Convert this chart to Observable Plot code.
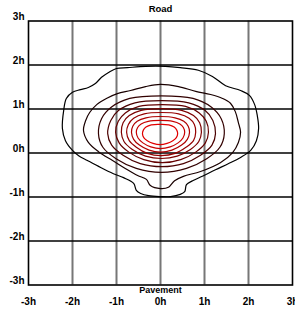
<!DOCTYPE html>
<html><head><meta charset="utf-8">
<script src="https://cdn.jsdelivr.net/npm/d3@7"></script>
<script src="https://cdn.jsdelivr.net/npm/@observablehq/plot@0.6"></script>
<style>body{margin:0;background:#fff}</style>
</head><body><div id="chart"></div>
<script>
const ticks = [-3, -2, -1, 0, 1, 2, 3];
const gridTicks = [-2, -1, 0, 1, 2];
const topLabel = "Road";
const bottomLabel = "Pavement";
const levels = [1, 2, 3, 4, 5, 6, 7, 8, 9, 10];

const contour1 = [[0,-0.99],[-0.27,-0.97],[-0.45,-0.92],[-0.55,-0.85],[-0.61,-0.69],[-0.84,-0.56],[-1.07,-0.47],[-1.36,-0.33],[-1.66,-0.17],[-1.86,-0.06],[-2.0,0.06],[-2.16,0.28],[-2.23,0.56],[-2.20,0.97],[-2.14,1.24],[-2.0,1.38],[-1.82,1.44],[-1.64,1.49],[-1.48,1.58],[-1.34,1.72],[-1.18,1.83],[-1.0,1.92],[-0.75,1.94],[-0.34,1.97],[0.11,1.97],[0.45,1.94],[0.86,1.88],[1.18,1.74],[1.48,1.53],[1.82,1.42],[2.02,1.31],[2.14,1.10],[2.20,0.85],[2.23,0.56],[2.18,0.28],[2.05,0.06],[1.82,-0.10],[1.55,-0.24],[1.25,-0.38],[0.95,-0.53],[0.73,-0.63],[0.59,-0.72],[0.55,-0.88],[0.45,-0.94],[0.23,-0.99]];
const contour2 = [[0,-0.81],[-0.23,-0.74],[-0.32,-0.60],[-0.52,-0.51],[-0.80,-0.35],[-1.09,-0.17],[-1.41,0.03],[-1.64,0.24],[-1.75,0.51],[-1.70,0.74],[-1.61,0.92],[-1.45,1.10],[-1.23,1.24],[-0.98,1.35],[-0.68,1.42],[-0.34,1.51],[0,1.56],[0.41,1.51],[0.80,1.40],[1.14,1.33],[1.41,1.24],[1.59,1.13],[1.70,0.94],[1.77,0.69],[1.82,0.47],[1.77,0.24],[1.64,0.01],[1.36,-0.22],[0.91,-0.42],[0.52,-0.53],[0.32,-0.63],[0.18,-0.78]];
const contour3 = [[0.02,1.30],[0.74,1.24],[1.16,1.04],[1.38,0.78],[1.45,0.44],[1.35,0.13],[1.05,-0.13],[0.59,-0.35],[0.02,-0.44],[-0.55,-0.35],[-1.01,-0.13],[-1.31,0.13],[-1.41,0.44],[-1.34,0.78],[-1.12,1.04],[-0.70,1.24]];
const contour4 = [[0.03,1.19],[0.64,1.14],[1.01,0.97],[1.19,0.74],[1.25,0.44],[1.17,0.18],[0.91,-0.05],[0.52,-0.24],[0.03,-0.31],[-0.46,-0.24],[-0.85,-0.05],[-1.11,0.18],[-1.20,0.44],[-1.13,0.74],[-0.95,0.97],[-0.58,1.14]];
const contour5 = [[0.04,1.10],[0.57,1.06],[0.88,0.91],[1.04,0.72],[1.09,0.47],[1.02,0.23],[0.80,0.02],[0.46,-0.15],[0.04,-0.22],[-0.38,-0.15],[-0.72,0.02],[-0.94,0.23],[-1.02,0.47],[-0.96,0.72],[-0.80,0.91],[-0.49,1.06]];
const contour6 = [[0.02,1.01],[0.48,0.97],[0.75,0.85],[0.89,0.69],[0.93,0.47],[0.87,0.26],[0.68,0.08],[0.38,-0.07],[0.02,-0.125],[-0.34,-0.07],[-0.64,0.08],[-0.83,0.26],[-0.89,0.47],[-0.85,0.69],[-0.71,0.85],[-0.44,0.97]];
const contour7 = [[0.02,0.92],[0.41,0.89],[0.65,0.79],[0.77,0.65],[0.80,0.47],[0.75,0.28],[0.58,0.13],[0.33,-0.01],[0.02,-0.06],[-0.30,-0.01],[-0.55,0.13],[-0.71,0.28],[-0.77,0.47],[-0.73,0.65],[-0.61,0.79],[-0.37,0.89]];
const contour8 = [[0,0.83],[0.33,0.80],[0.53,0.72],[0.63,0.61],[0.66,0.47],[0.61,0.31],[0.48,0.18],[0.26,0.065],[0,0.02],[-0.26,0.065],[-0.48,0.18],[-0.61,0.31],[-0.66,0.47],[-0.63,0.61],[-0.53,0.72],[-0.33,0.80]];
const contour9 = [[0,0.74],[0.28,0.72],[0.44,0.66],[0.52,0.58],[0.55,0.47],[0.51,0.34],[0.40,0.23],[0.22,0.14],[0,0.10],[-0.22,0.14],[-0.40,0.23],[-0.51,0.34],[-0.55,0.47],[-0.52,0.58],[-0.44,0.66],[-0.28,0.72]];
const contour10 = [[-0.01,0.65],[0.19,0.64],[0.31,0.59],[0.37,0.52],[0.39,0.44],[0.36,0.35],[0.28,0.28],[0.15,0.22],[-0.01,0.19],[-0.17,0.22],[-0.30,0.28],[-0.38,0.35],[-0.41,0.44],[-0.39,0.52],[-0.33,0.59],[-0.21,0.64]];

const contours = [contour1, contour2, contour3, contour4, contour5, contour6, contour7, contour8, contour9, contour10];
const rows = contours.flatMap((pts, i) => pts.map(([x, y]) => ({level: levels[i], x, y})));

const chart = Plot.plot({
  width: 295,
  height: 313,
  marginLeft: 28,
  marginRight: 3,
  marginTop: 20.5,
  marginBottom: 28.5,
  x: {domain: [-3, 3], label: null},
  y: {domain: [-3, 3], label: null},
  color: {type: "linear", domain: [1, 10], range: ["#000000", "#e00000"]},
  style: {fontFamily: "'Liberation Sans', Arial, sans-serif", fontSize: "10px", fontWeight: "bold", background: "#fff"},
  marks: [
    Plot.ruleX(gridTicks, {stroke: "#777", strokeWidth: 2}),
    Plot.ruleY(gridTicks, {stroke: "#000", strokeWidth: 1.3}),
    Plot.line(rows, {x: "x", y: "y", z: "level", stroke: "level", curve: "catmull-rom-closed", strokeWidth: 1.2}),
    Plot.frame({stroke: "#000", strokeWidth: 1.6}),
    Plot.axisX({ticks: ticks, tickSize: 0, tickPadding: 12.5, tickFormat: d => d + "h", label: null, fontWeight: "bold", fill: "#000"}),
    Plot.axisY({ticks: ticks, tickSize: 0, tickPadding: 4, tickFormat: d => d + "h", label: null, dy: -4, fontWeight: "bold", fill: "#000"}),
    Plot.text([topLabel], {text: d => d, frameAnchor: "top", lineAnchor: "middle", dy: -12, fontSize: 9.5, fontWeight: "bold", fill: "#000"}),
    Plot.text([bottomLabel], {text: d => d, frameAnchor: "bottom", lineAnchor: "middle", dy: 5.5, fontSize: 9, fontWeight: "bold", fill: "#000"})
  ]
});
document.getElementById("chart").appendChild(chart);
</script>
</body></html>
